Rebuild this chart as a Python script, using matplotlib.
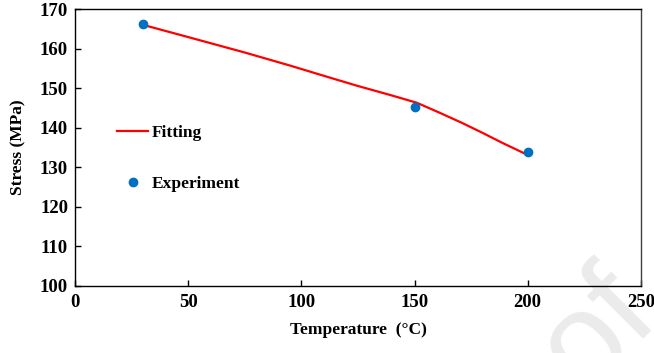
import matplotlib
matplotlib.use("Agg")
import matplotlib.pyplot as plt

plt.rcParams["font.family"] = ["Liberation Serif", "DejaVu Serif"]
plt.rcParams["font.weight"] = "bold"

# experiment points
exp_temp = [30, 150, 200]
exp_stress = [166.1, 145.3, 133.9]

# fitted curve
fit_temp = [30, 50, 75, 95, 110, 124, 139, 151, 161, 171, 180, 189, 200]
fit_stress = [166.0, 162.9, 159.0, 155.7, 153.1, 150.7, 148.3, 146.3, 143.8, 141.2, 138.7, 136.1, 133.1]

x_ticks = [0, 50, 100, 150, 200, 250]
y_ticks = [100, 110, 120, 130, 140, 150, 160, 170]

fig = plt.figure(figsize=(6.54, 3.53), dpi=100)
ax = fig.add_axes([0.1147, 0.19, 0.8653, 0.7845])

ax.plot(fit_temp, fit_stress, color="#ff0000", lw=1.6, label="Fitting", zorder=2,
        solid_joinstyle="round")
ax.plot(exp_temp, exp_stress, "o", color="#0070c0", ms=6, label="Experiment", zorder=3)

ax.set_xlim(0, 250)
ax.set_ylim(100, 170)
ax.set_xticks(x_ticks)
ax.set_yticks(y_ticks)
ax.tick_params(direction="in", length=4, width=1, labelsize=13.5, pad=6)
ax.tick_params(axis="y", pad=5)
for s in ax.spines.values():
    s.set_linewidth(1.0)
ax.spines["right"].set_color("#404040")
ax.patch.set_alpha(0)

ax.set_xlabel("Temperature  (°C)", fontsize=12.5, fontweight="bold", labelpad=8)
ax.set_ylabel("Stress (MPa)", fontsize=12.5, fontweight="bold", labelpad=10)

leg = ax.legend(loc="center left", bbox_to_anchor=(0.074, 0.46), frameon=False,
                fontsize=12.5, labelspacing=2.0, handlelength=1.8,
                handletextpad=0.2, borderpad=0, borderaxespad=0)

# faint watermark fragment
fig.text(1.01, 0.10, "of", fontsize=94, color="#ebebeb", rotation=45,
         rotation_mode="anchor", ha="right", va="baseline",
         fontweight="normal", zorder=-1, family="Liberation Sans")

fig.savefig("out.png", dpi=100)
plt.close(fig)
